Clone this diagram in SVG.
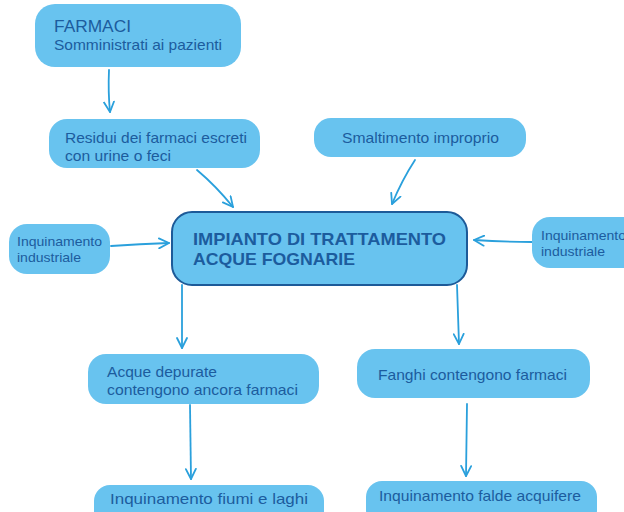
<svg xmlns="http://www.w3.org/2000/svg" width="624" height="512" viewBox="0 0 624 512">
  <defs>
    <style>
      .box { fill: #68c3ef; }
      .main { fill: #68c3ef; stroke: #1d5a98; stroke-width: 2; }
      .t { font-family: "Liberation Sans", Arial, sans-serif; fill: #1c5c9e; font-size: 15px; }
      .ts { font-size: 13px; }
      .tb { font-weight: bold; font-size: 17px; }
      .tl { font-size: 17px; }
      .link { fill: none; stroke: #2aa0dc; stroke-width: 1.8; stroke-linecap: round; }
    </style>
    <marker id="arr" viewBox="0 0 12 12" refX="11" refY="6" markerWidth="12" markerHeight="12" markerUnits="userSpaceOnUse" orient="auto">
      <path d="M1,1 L11,6 L1,11" fill="none" stroke="#2aa0dc" stroke-width="1.8" stroke-linecap="round" stroke-linejoin="round"/>
    </marker>
  </defs>

  <rect width="624" height="512" fill="#ffffff"/>

  <g id="connectors">
    <path class="link" d="M109,70 Q108,92 110,112" marker-end="url(#arr)"/>
    <path class="link" d="M197,170 Q216,186 233,207" marker-end="url(#arr)"/>
    <path class="link" d="M415,160 Q402,180 392,204" marker-end="url(#arr)"/>
    <path class="link" d="M111,246 Q140,244 169,243" marker-end="url(#arr)"/>
    <path class="link" d="M532,242 Q503,242 474,240" marker-end="url(#arr)"/>
    <path class="link" d="M182,285 L182,348" marker-end="url(#arr)"/>
    <path class="link" d="M457,285 L459,344" marker-end="url(#arr)"/>
    <path class="link" d="M190,405 L191,479" marker-end="url(#arr)"/>
    <path class="link" d="M467,404 L466,476" marker-end="url(#arr)"/>
  </g>

  <g id="farmaci">
    <rect class="box" x="35" y="4" width="206" height="63" rx="20"/>
    <text class="t tl" x="54" y="32" textLength="77" lengthAdjust="spacingAndGlyphs">FARMACI</text>
    <text class="t" x="54" y="50" textLength="168" lengthAdjust="spacingAndGlyphs">Somministrati ai pazienti</text>
  </g>

  <g id="residui">
    <rect class="box" x="49" y="119" width="211" height="49" rx="18"/>
    <text class="t" x="65" y="143" textLength="182" lengthAdjust="spacingAndGlyphs">Residui dei farmaci escreti</text>
    <text class="t" x="65" y="161" textLength="106" lengthAdjust="spacingAndGlyphs">con urine o feci</text>
  </g>

  <g id="smaltimento">
    <rect class="box" x="314" y="118" width="212" height="39" rx="17"/>
    <text class="t" x="342" y="143" textLength="157" lengthAdjust="spacingAndGlyphs">Smaltimento improprio</text>
  </g>

  <g id="impianto">
    <rect class="main" x="172" y="212" width="295" height="73" rx="20"/>
    <text class="t tb" x="193" y="245" textLength="253" lengthAdjust="spacingAndGlyphs">IMPIANTO DI TRATTAMENTO</text>
    <text class="t tb" x="193" y="265" textLength="162" lengthAdjust="spacingAndGlyphs">ACQUE FOGNARIE</text>
  </g>

  <g id="industriale-sx">
    <rect class="box" x="9" y="224" width="101" height="50" rx="18"/>
    <text class="t ts" x="17" y="246" textLength="85" lengthAdjust="spacingAndGlyphs">Inquinamento</text>
    <text class="t ts" x="17" y="262" textLength="64" lengthAdjust="spacingAndGlyphs">industriale</text>
  </g>

  <g id="industriale-dx">
    <rect class="box" x="532" y="217" width="110" height="51" rx="18"/>
    <text class="t ts" x="541" y="240" textLength="85" lengthAdjust="spacingAndGlyphs">Inquinamento</text>
    <text class="t ts" x="541" y="256" textLength="64" lengthAdjust="spacingAndGlyphs">industriale</text>
  </g>

  <g id="acque-depurate">
    <rect class="box" x="88" y="354" width="231" height="50" rx="18"/>
    <text class="t" x="107" y="377" textLength="110" lengthAdjust="spacingAndGlyphs">Acque depurate</text>
    <text class="t" x="107" y="395" textLength="191" lengthAdjust="spacingAndGlyphs">contengono ancora farmaci</text>
  </g>

  <g id="fanghi">
    <rect class="box" x="357" y="349" width="233" height="49" rx="18"/>
    <text class="t" x="378" y="380" textLength="189" lengthAdjust="spacingAndGlyphs">Fanghi contengono farmaci</text>
  </g>

  <g id="fiumi-laghi">
    <rect class="box" x="94" y="485" width="230" height="45" rx="16"/>
    <text class="t" x="110" y="504" textLength="198" lengthAdjust="spacingAndGlyphs">Inquinamento fiumi e laghi</text>
  </g>

  <g id="falde">
    <rect class="box" x="366" y="481" width="231" height="45" rx="16"/>
    <text class="t" x="379" y="501" textLength="202" lengthAdjust="spacingAndGlyphs">Inquinamento falde acquifere</text>
  </g>
</svg>
